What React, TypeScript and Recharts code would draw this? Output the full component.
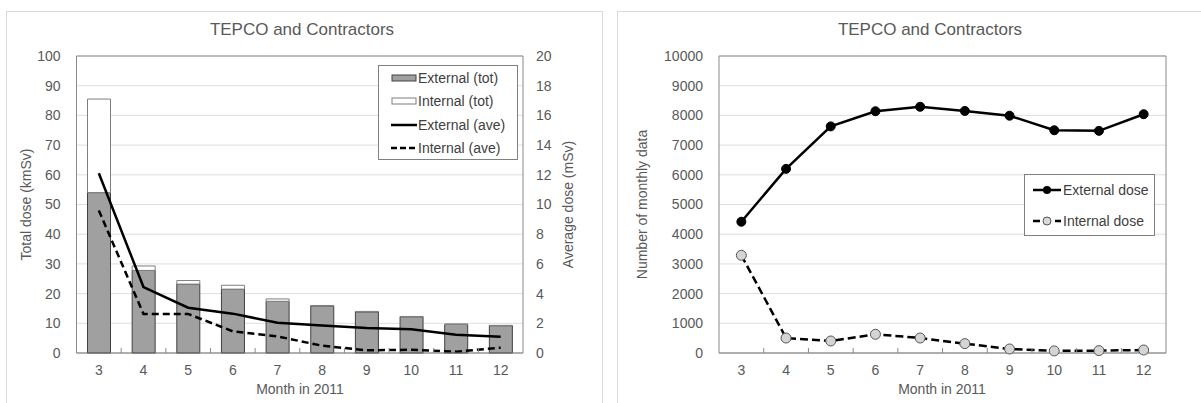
import React from 'react';
import { ComposedChart, LineChart, Bar, Line, XAxis, YAxis, CartesianGrid, ReferenceLine } from 'recharts';

const months = ['3', '4', '5', '6', '7', '8', '9', '10', '11', '12'];

// left panel: total dose (kmSv) and average dose (mSv)
const externalTot = [54, 27.8, 23.2, 21.5, 17.4, 15.8, 13.8, 12.2, 9.6, 9.2];
const internalTot = [31.5, 1.5, 1.2, 1.3, 0.8, 0.2, 0.2, 0.1, 0.2, 0.1];
const externalAve = [12.1, 4.44, 3.05, 2.65, 2.04, 1.86, 1.68, 1.6, 1.23, 1.1];
const internalAve = [9.6, 2.63, 2.63, 1.46, 1.12, 0.49, 0.18, 0.22, 0.09, 0.36];

// right panel: number of monthly data
const externalCount = [4420, 6200, 7630, 8140, 8290, 8150, 7990, 7500, 7480, 8040];
const internalCount = [3290, 505, 405, 630, 505, 315, 135, 70, 80, 100];

const leftTicks = [0, 10, 20, 30, 40, 50, 60, 70, 80, 90, 100];
const rightTicks = [0, 2, 4, 6, 8, 10, 12, 14, 16, 18, 20];
const countTicks = [0, 1000, 2000, 3000, 4000, 5000, 6000, 7000, 8000, 9000, 10000];

const leftData = months.map((m, i) => ({
  month: m,
  extTot: externalTot[i],
  intTot: internalTot[i],
  extAve: externalAve[i],
  intAve: internalAve[i],
}));

const rightData = months.map((m, i) => ({
  month: m,
  ext: externalCount[i],
  int: internalCount[i],
}));

const FONT = '"Liberation Sans", Arial, sans-serif';
const TEXT = '#595959';
const AXIS = '#8a8a8a';
const GRID = '#dedede';
const PLOT_TOP = 56;
const PLOT_H = 297;
const PLOT_W = 446;

const MonthTick = (props: any) => {
  const { x, y, index } = props;
  const band = PLOT_W / months.length;
  const axisY = PLOT_TOP + PLOT_H;
  return (
    <g>
      {index > 0 && (
        <line x1={x - band / 2} x2={x - band / 2} y1={axisY} y2={axisY - 5} stroke={AXIS} strokeWidth={1} />
      )}
      <text x={x} y={y} dy="0.71em" textAnchor="middle" fill={TEXT} fontSize={14} fontFamily={FONT}>
        {props.payload.value}
      </text>
    </g>
  );
};

const vLabel = (text: string, x: number) => () => (
  <text
    x={x}
    y={PLOT_TOP + PLOT_H / 2}
    transform={`rotate(-90, ${x}, ${PLOT_TOP + PLOT_H / 2})`}
    textAnchor="middle"
    dominantBaseline="central"
    fill={TEXT}
    fontSize={14}
    fontFamily={FONT}
  >
    {text}
  </text>
);

const xLabel = (cx: number) => () => (
  <text x={cx} y={394} textAnchor="middle" fill={TEXT} fontSize={14} fontFamily={FONT}>
    Month in 2011
  </text>
);

const legendText: React.CSSProperties = { fontSize: 14, color: '#404040', fontFamily: FONT, lineHeight: '16px' };

function LeftLegend() {
  const rows = [
    { name: 'External (tot)', sw: <rect x={1} y={4} width={24} height={6} fill="#a0a0a0" stroke="#404040" /> },
    { name: 'Internal (tot)', sw: <rect x={1} y={4} width={24} height={6} fill="#fff" stroke="#7f7f7f" /> },
    { name: 'External (ave)', sw: <line x1={0} x2={26} y1={7} y2={7} stroke="#000" strokeWidth={2.5} /> },
    { name: 'Internal (ave)', sw: <line x1={0} x2={26} y1={7} y2={7} stroke="#000" strokeWidth={2.5} strokeDasharray="6 3" /> },
  ];
  return (
    <div style={{ position: 'absolute', left: 378, top: 65, width: 138, height: 93, border: '1px solid #808080', background: '#fff' }}>
      {rows.map((r, i) => (
        <div key={r.name} style={{ position: 'absolute', left: 12, top: 4 + i * 23.3, display: 'flex', alignItems: 'center' }}>
          <svg width={27} height={14}>{r.sw}</svg>
          <span style={legendText}>{r.name}</span>
        </div>
      ))}
    </div>
  );
}

function RightLegend() {
  const rows = [
    { name: 'External dose', sw: (
      <g>
        <line x1={0} x2={28} y1={7} y2={7} stroke="#000" strokeWidth={2.5} />
        <circle cx={14} cy={7} r={4} fill="#000" />
      </g>
    ) },
    { name: 'Internal dose', sw: (
      <g>
        <line x1={0} x2={28} y1={7} y2={7} stroke="#000" strokeWidth={2.5} strokeDasharray="7 4" />
        <circle cx={14} cy={7} r={4} fill="#d9d9d9" stroke="#555" />
      </g>
    ) },
  ];
  return (
    <div style={{ position: 'absolute', left: 1024, top: 174, width: 129, height: 60, border: '1px solid #808080', background: '#fff' }}>
      {rows.map((r, i) => (
        <div key={r.name} style={{ position: 'absolute', left: 8, top: 7 + i * 31, display: 'flex', alignItems: 'center' }}>
          <svg width={30} height={14}>{r.sw}</svg>
          <span style={legendText}>{r.name}</span>
        </div>
      ))}
    </div>
  );
}

const titleStyle = (cx: number): React.CSSProperties => ({
  position: 'absolute',
  left: cx - 150,
  width: 300,
  top: 20,
  textAlign: 'center',
  fontSize: 17,
  color: TEXT,
  fontFamily: FONT,
});

export default function App() {
  return (
    <div style={{ position: 'absolute', left: 0, top: 0, width: 1201, height: 403, overflow: 'hidden', background: '#fff' }}>
      <div style={{ position: 'absolute', left: 6, top: 11, width: 595, height: 420, border: '1px solid #d9d9d9' }} />
      <div style={{ position: 'absolute', left: 617, top: 11, width: 620, height: 420, border: '1px solid #d9d9d9' }} />

      <div style={{ position: 'absolute', left: 0, top: 0 }}>
        <ComposedChart width={600} height={403} data={leftData} margin={{ top: PLOT_TOP, right: 17, bottom: 0, left: 0 }} barSize={23}>
          <CartesianGrid yAxisId="left" vertical={false} stroke={GRID} />
          <XAxis
            dataKey="month"
            height={50}
            tickSize={0}
            tickMargin={12}
            tick={MonthTick}
            interval={0}
            axisLine={{ stroke: '#6e6e6e' }}
            tickLine={false}
            label={xLabel(300)}
          />
          <YAxis
            yAxisId="left"
            width={76.5}
            domain={[0, 100]}
            ticks={leftTicks}
            interval={0}
            tickSize={0}
            tickMargin={16}
            tickLine={false}
            axisLine={{ stroke: AXIS }}
            tick={{ fill: TEXT, fontSize: 14, fontFamily: FONT }}
            label={vLabel('Total dose (kmSv)', 26)}
          />
          <YAxis
            yAxisId="right"
            orientation="right"
            width={60}
            domain={[0, 20]}
            ticks={rightTicks}
            interval={0}
            tickSize={0}
            tickMargin={13}
            tickLine={false}
            axisLine={{ stroke: AXIS }}
            tick={{ fill: TEXT, fontSize: 14, fontFamily: FONT, textAnchor: 'start' }}
            label={vLabel('Average dose (mSv)', 567.5)}
          />
          <ReferenceLine yAxisId="left" y={100} stroke={AXIS} />
          <Bar yAxisId="left" dataKey="extTot" stackId="a" fill="#a0a0a0" stroke="#404040" strokeWidth={1} isAnimationActive={false} />
          <Bar yAxisId="left" dataKey="intTot" stackId="a" fill="#ffffff" stroke="#7f7f7f" strokeWidth={1} isAnimationActive={false} />
          <Line yAxisId="right" dataKey="extAve" stroke="#000" strokeWidth={2.5} dot={false} isAnimationActive={false} />
          <Line yAxisId="right" dataKey="intAve" stroke="#000" strokeWidth={2.5} strokeDasharray="7 4" dot={false} isAnimationActive={false} />
        </ComposedChart>
      </div>

      <div style={{ position: 'absolute', left: 600, top: 0 }}>
        <LineChart width={601} height={403} data={rightData} margin={{ top: PLOT_TOP, right: 34, bottom: 0, left: 0 }}>
          <CartesianGrid yAxisId="count" vertical={false} stroke={GRID} />
          <XAxis
            dataKey="month"
            scale="band"
            height={50}
            tickSize={0}
            tickMargin={12}
            tick={MonthTick}
            interval={0}
            axisLine={{ stroke: '#6e6e6e' }}
            tickLine={false}
            label={xLabel(342)}
          />
          <YAxis
            yAxisId="count"
            width={119}
            domain={[0, 10000]}
            ticks={countTicks}
            interval={0}
            tickSize={0}
            tickMargin={16}
            tickLine={false}
            axisLine={{ stroke: AXIS }}
            tick={{ fill: TEXT, fontSize: 14, fontFamily: FONT }}
            label={vLabel('Number of monthly  data', 42)}
          />
          <YAxis yAxisId="edge" orientation="right" width={1} tick={false} tickLine={false} axisLine={{ stroke: AXIS }} />
          <ReferenceLine yAxisId="count" y={10000} stroke={AXIS} />
          <Line
            yAxisId="count"
            dataKey="ext"
            stroke="#000"
            strokeWidth={2.5}
            dot={{ r: 4.5, fill: '#000', stroke: '#000', strokeWidth: 1 }}
            isAnimationActive={false}
          />
          <Line
            yAxisId="count"
            dataKey="int"
            stroke="#000"
            strokeWidth={2.5}
            strokeDasharray="8 4"
            dot={{ r: 5, fill: '#d4d4d4', stroke: '#555', strokeWidth: 1, strokeDasharray: '' }}
            isAnimationActive={false}
          />
        </LineChart>
      </div>

      <div style={titleStyle(302)}>TEPCO and Contractors</div>
      <div style={titleStyle(930)}>TEPCO and Contractors</div>
      <LeftLegend />
      <RightLegend />
    </div>
  );
}
